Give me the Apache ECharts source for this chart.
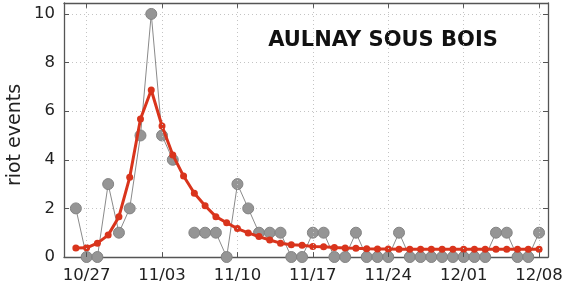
<!DOCTYPE html>
<html>
<head>
<meta charset="utf-8">
<script src="https://cdn.jsdelivr.net/npm/echarts@6/dist/echarts.min.js"></script>
<style>html,body{margin:0;padding:0;background:#fff}#c{width:564px;height:294px}</style>
</head>
<body>
<div id="c"></div>
<script>
// day offsets relative to 10/27; first observation is 10/26 (day -1)
var firstDay = -1;
var tickDays = [0, 7, 14, 21, 28, 35, 42];
var tickLabels = ['10/27', '11/03', '11/10', '11/17', '11/24', '12/01', '12/08'];
// observed riot events per day (10/26 .. 12/08), null = missing
var observed = [2, 0, 0, 3, 1, 2, 5, 10, 5, 4, null, 1, 1, 1, 0, 3, 2, 1, 1, 1, 0, 0, 1, 1, 0, 0, 1, 0, 0, 0, 1, 0, 0, 0, 0, 0, 0, 0, 0, 1, 1, 0, 0, 1];
// fitted model (10/26 .. 12/08)
var fitted = [0.37, 0.38, 0.57, 0.9, 1.66, 3.28, 5.68, 6.87, 5.39, 4.2, 3.33, 2.62, 2.11, 1.66, 1.41, 1.17, 0.99, 0.84, 0.70, 0.57, 0.50, 0.48, 0.43, 0.42, 0.39, 0.37, 0.36, 0.34, 0.33, 0.33, 0.32, 0.32, 0.32, 0.32, 0.32, 0.32, 0.32, 0.32, 0.32, 0.32, 0.32, 0.32, 0.32, 0.32];
var title = 'AULNAY SOUS BOIS';
var yName = 'riot events';

var obsData = observed.map(function (v, i) { return [firstDay + i, v == null ? '-' : v]; });
var fitData = fitted.map(function (v, i) { return [firstDay + i, v]; });

var frame = { show: true, onZero: false, lineStyle: { color: '#555', width: 1.3 } };
var tickStyle = { color: '#555', width: 1 };
var dotted = { color: '#c4c4c4', width: 1, type: [1, 3] };
var font = 'DejaVu Sans';
var xMin = -2.1, xMax = 42.83, yMin = 0, yMax = 10.45, yStep = 2;
var xTickLen = 0.2; // x tick mark length in data units (~5px)

var vGrid = tickDays.map(function (d) { return { xAxis: d }; });
var xTickMarks = [];
tickDays.forEach(function (d) {
  xTickMarks.push([{ coord: [d, yMin] }, { coord: [d, yMin + xTickLen] }]);
  xTickMarks.push([{ coord: [d, yMax] }, { coord: [d, yMax - xTickLen] }]);
});

var chart = echarts.init(document.getElementById('c'));
chart.setOption({
  animation: false,
  grid: { left: 64, top: 3, right: 16, bottom: 37, outerBoundsMode: 'none' },
  xAxis: [
    { type: 'value', min: xMin, max: xMax, position: 'bottom', axisLine: frame,
      axisTick: { show: false },
      axisLabel: { customValues: tickDays, margin: 10, color: '#222', fontFamily: font, fontSize: 16.5,
        formatter: function (v) { var k = tickDays.indexOf(v); return k >= 0 ? tickLabels[k] : ''; } },
      splitLine: { show: false } },
    { type: 'value', min: xMin, max: xMax, position: 'top', axisLine: frame,
      axisTick: { show: false }, axisLabel: { show: false }, splitLine: { show: false } }
  ],
  yAxis: [
    { type: 'value', min: yMin, max: yMax, interval: yStep, position: 'left', axisLine: frame,
      axisTick: { show: true, inside: true, length: 5, lineStyle: tickStyle },
      axisLabel: { showMaxLabel: false, margin: 9, color: '#222', fontFamily: font, fontSize: 16.5 },
      splitLine: { show: true, lineStyle: dotted } },
    { type: 'value', min: yMin, max: yMax, interval: yStep, position: 'right', axisLine: frame,
      axisTick: { show: true, inside: true, length: 5, lineStyle: tickStyle },
      axisLabel: { show: false }, splitLine: { show: false } }
  ],
  graphic: [
    { type: 'text', x: 383, y: 41, style: { text: title, fontFamily: font, fontWeight: 'bold', fontSize: 21, fill: '#111', align: 'center', verticalAlign: 'middle' } },
    { type: 'text', x: 15, y: 135, rotation: Math.PI / 2, style: { text: yName, fontFamily: font, fontSize: 19, fill: '#222', align: 'center', verticalAlign: 'middle' } }
  ],
  series: [
    { type: 'line', data: [], z: 0, silent: true,
      markLine: { silent: true, symbol: 'none', label: { show: false }, lineStyle: dotted, data: vGrid } },
    { type: 'line', data: [], z: 1, silent: true,
      markLine: { silent: true, symbol: 'none', label: { show: false },
        lineStyle: { color: '#555', width: 1, type: 'solid' }, data: xTickMarks } },
    { type: 'line', data: obsData, connectNulls: false, symbol: 'circle', symbolSize: 11, showAllSymbol: true,
      lineStyle: { color: '#8a8a8a', width: 1 },
      itemStyle: { color: '#959595', borderColor: '#838383', borderWidth: 1 }, z: 2 },
    { type: 'line', data: fitData, symbol: 'circle', symbolSize: 7, showAllSymbol: true,
      lineStyle: { color: '#d9341c', width: 3 },
      itemStyle: { color: '#d9341c', borderWidth: 0 }, z: 3 }
  ]
});
</script>
</body>
</html>
